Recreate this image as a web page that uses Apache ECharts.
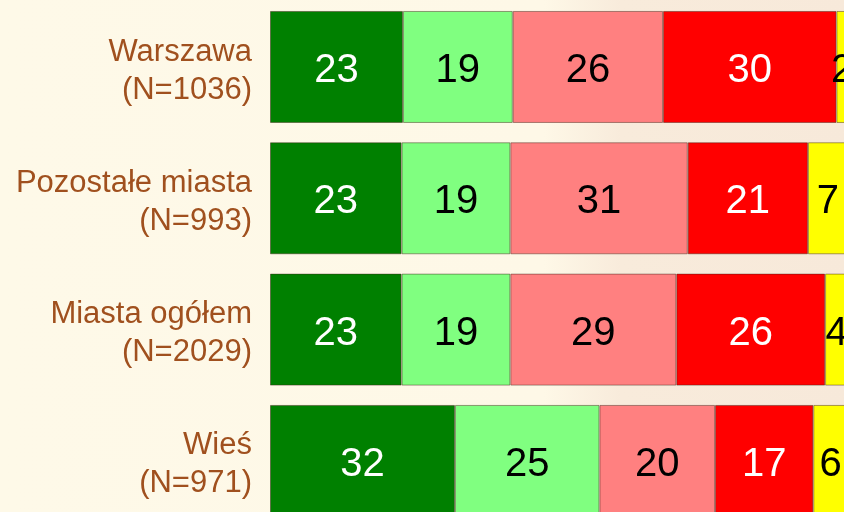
<!DOCTYPE html>
<html><head><meta charset="utf-8">
<script src="https://cdn.jsdelivr.net/npm/echarts@6/dist/echarts.min.js"></script>
<style>html,body{margin:0;padding:0;overflow:hidden;width:844px;height:512px;}#c{width:850px;height:530px;}</style>
</head><body><div id="c"></div>
<script>
const categories = ['Warszawa\n(N=1036)', 'Pozostałe miasta\n(N=993)', 'Miasta ogółem\n(N=2029)', 'Wieś\n(N=971)'];
const s1 = [23, 23, 23, 32];
const s2 = [19, 19, 19, 25];
const s3 = [26, 31, 29, 20];
const s4 = [30, 21, 26, 17];
const s5 = [2, 7, 4, 6];
const seriesRaw = [s1, s2, s3, s4, s5];
const colors = ['#008000', '#80FF80', '#FF8080', '#FF0000', '#FFFF00'];
const labelColors = ['#ffffff', '#000000', '#000000', '#ffffff', '#000000'];
const totals = categories.map((_, i) => seriesRaw.reduce((a, s) => a + s[i], 0));

const chart = echarts.init(document.getElementById('c'));
chart.setOption({
  backgroundColor: {
    type: 'linear', x: 0, y: 0, x2: 1, y2: 0,
    colorStops: [{offset: 0, color: '#FEF9E8'}, {offset: 0.64, color: '#FEF8E7'}, {offset: 0.73, color: '#F8EBDB'}, {offset: 1, color: '#F7E9DA'}]
  },
  animation: false,
  grid: {left: 270, width: 578, top: 1.3, height: 525.3},
  xAxis: {type: 'value', min: 0, max: 100, show: false},
  yAxis: {
    type: 'category', data: categories, inverse: true,
    axisLine: {show: false}, axisTick: {show: false},
    axisLabel: {
      color: '#A0501E', fontSize: 31, fontFamily: 'Liberation Sans, Arial', lineHeight: 38, margin: 18, align: 'right',
      formatter: v => {
        const parts = v.split('\n');
        return '{a|' + parts[0] + '}\n{b|' + parts[1] + '}';
      },
      rich: {
        a: {color: '#A0501E', fontSize: 31, fontFamily: 'Liberation Sans, Arial', lineHeight: 38, padding: [8, 0, 0, 0]},
        b: {color: '#A0501E', fontSize: 31, fontFamily: 'Liberation Sans, Arial', lineHeight: 38, padding: [8, 0, 0, 0]}
      }
    }
  },
  series: seriesRaw.map((s, k) => ({
    type: 'bar', stack: 'all', barWidth: 112,
    data: s.map((v, i) => ({value: v / totals[i] * 100, raw: v})),
    itemStyle: {color: colors[k], borderColor: 'rgba(60,30,20,0.45)', borderWidth: 1},
    label: {
      show: true, position: 'inside', color: labelColors[k], fontSize: 40,
      fontFamily: 'Liberation Sans, Arial', offset: [0, 4],
      formatter: p => String(seriesRaw[k][p.dataIndex])
    }
  }))
});
</script></body></html>
